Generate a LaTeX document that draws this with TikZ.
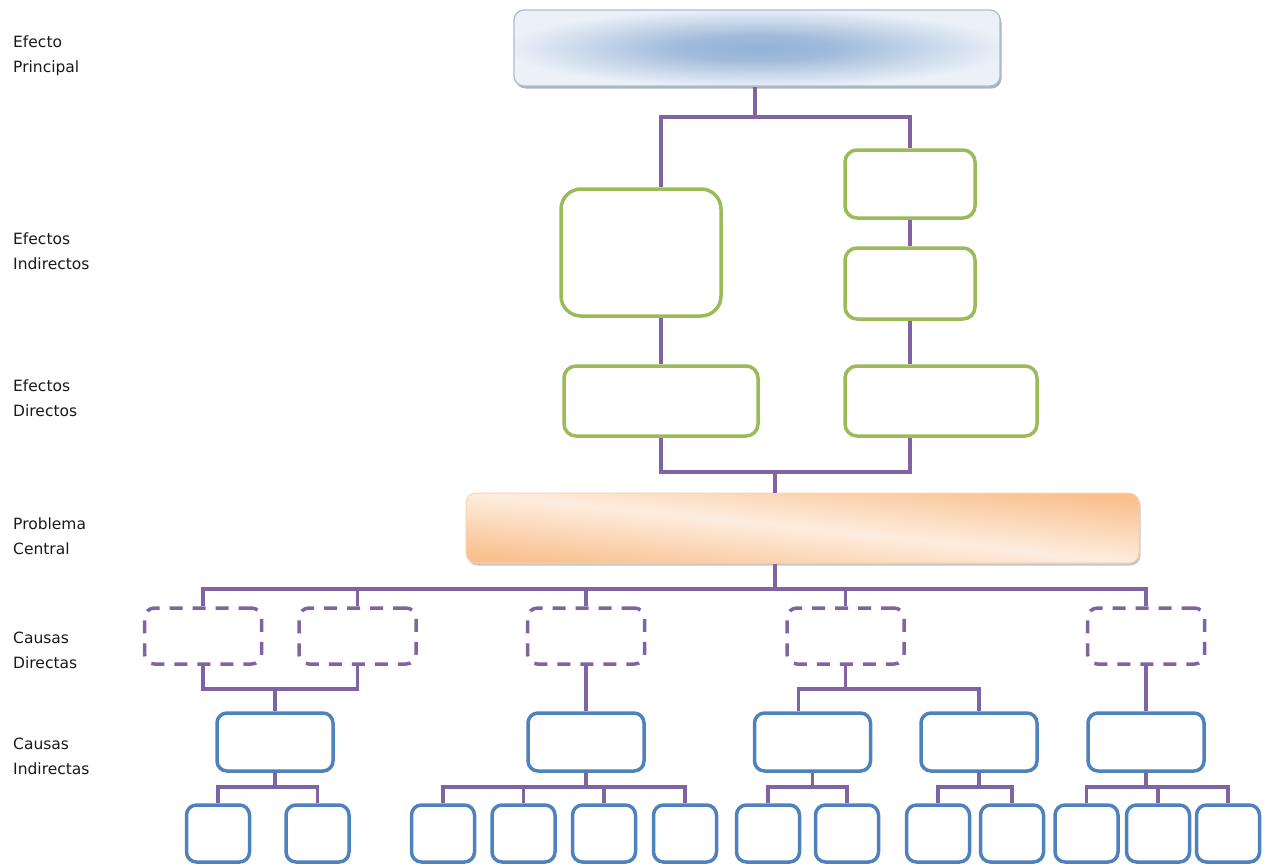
\documentclass[tikz,border=0pt]{standalone}
\usepackage{fontspec}
\setmainfont{DejaVu Sans}
\usepackage{tikz}
\usepackage{xcolor}
\usetikzlibrary{calc,shadows}
\definecolor{linkcolore}{HTML}{8064A2}
\definecolor{effectcolore}{HTML}{9BBB59}
\definecolor{causecolore}{HTML}{4F81BD}
\definecolor{maincolore}{HTML}{93B1D6}
\definecolor{mainbordere}{HTML}{A3BDDF}
\colorlet{washedmaincolore}{maincolore!18!white}
\definecolor{centralcolore}{HTML}{F9BF8C}
\colorlet{washedcentralcolore}{centralcolore!28!white}
\colorlet{linkcolor}{linkcolore}
\colorlet{effectcolor}{effectcolore}
\colorlet{causecolor}{causecolore}
\pgfdeclareradialshading{mainglow}{\pgfpoint{0bp}{0bp}}{%
    color(0bp)=(maincolore);
    color(8bp)=(maincolore!88!white);
    color(17bp)=(maincolore!42!washedmaincolore);
    color(26bp)=(washedmaincolore);
    color(50bp)=(washedmaincolore)}
\tikzstyle{link} = [draw=linkcolor, line width=3.5pt]
\tikzstyle{mainbox} = [
    rectangle,
    draw=mainbordere,
    line width=1.2pt,
    rounded corners=10pt,
    shading=mainglow,
    drop shadow={shadow xshift=1.5pt, shadow yshift=-2.5pt, opacity=.55, fill=black!55}
    ]
\tikzstyle{centralbox} = [
    rectangle,
    draw=centralcolore!70!white,
    line width=1pt,
    rounded corners=10pt,
    top color=centralcolore,
    bottom color=centralcolore,
    middle color=washedcentralcolore,
    shading angle=-6,
    drop shadow={shadow xshift=1.5pt, shadow yshift=-2.5pt, opacity=.45, fill=black!50}
    ]
\tikzstyle{effbox} = [
    rectangle,
    draw=effectcolor,
    line width=3.5pt,
    fill=white,
    rounded corners=12pt,
    minimum width=130pt,
    minimum height=68pt
    ]
\tikzstyle{dirbox} = [
    rectangle,
    draw=linkcolor,
    line width=3.5pt,
    dash pattern=on 13pt off 10pt,
    rounded corners=10pt,
    minimum width=117pt,
    minimum height=56pt
    ]
\tikzstyle{indbox} = [
    rectangle,
    draw=causecolor,
    line width=3.5pt,
    fill=white,
    rounded corners=10pt,
    minimum width=116pt,
    minimum height=58pt
    ]
\tikzstyle{leafbox} = [indbox, minimum width=63pt, minimum height=57pt]
\tikzstyle{levellabel} = [
    anchor=west,
    align=left,
    inner sep=0pt,
    text=black!90,
    font=\fontsize{15.5}{25}\selectfont
    ]

\begin{document}
\begin{tikzpicture}[x=1pt, y=-1pt]
\useasboundingbox (0,0) rectangle (1265,865);

% level names
\node[levellabel] (tEP) at (13,55.5) {Efecto\\Principal};
\node[levellabel] (tEI) at (13,251.5) {Efectos\\Indirectos};
\node[levellabel] (tED) at (13,398.5) {Efectos\\Directos};
\node[levellabel] (tPC) at (13,536.5) {Problema\\Central};
\node[levellabel] (tCD) at (13,650.5) {Causas\\Directas};
\node[levellabel] (tCI) at (13,756) {Causas\\Indirectas};

% effects
\node[mainbox, minimum width=486pt, minimum height=76pt] (ep) at (757,48) {};
\node[effbox, minimum width=160pt, minimum height=127pt, rounded corners=20pt] (ei1) at (641,252.5) {};
\node[effbox] (ei2a) at (910,184) {};
\node[effbox, minimum height=71pt] (ei2b) at (910,283.5) {};
\node[effbox, minimum width=194pt, minimum height=70pt] (ed1) at (661,401) {};
\node[effbox, minimum width=192pt, minimum height=70pt] (ed2) at (941,401) {};
\node[centralbox, minimum width=673pt, minimum height=70pt] (pc) at (802.5,528) {};

% causes
\foreach \n/\x in {1/203,2/357.5,3/586,4/845.5,5/1146}
    \node[dirbox] (cd\n) at (\x,636) {};
\foreach \n/\x in {1/275,2/586,3/812.5,4/979,5/1146}
    \node[indbox] (ci\n) at (\x,742) {};
\foreach \n/\x in {1/218,2/317.5,3/443,4/523.5,5/604,6/685,7/768,8/847,9/938,10/1012,11/1086.5,12/1158,13/1228}
    \node[leafbox] (l\n) at (\x,833.5) {};

% connectors
\coordinate (b1) at (755,117);
\coordinate (b2) at (775,472);
\coordinate (b3) at (775,589);
\coordinate (b4) at (275,689);
\coordinate (lbus) at (0,787);

\draw[link] (b1 |- ep.south) -- (b1);
\draw[link] (ed1.north |- ei1.north) |- (b1) -| (ei2a.north);
\draw[link] (ei2a.south) -- (ei2b.north);
\draw[link] (ed1.north) -- (ed1.north |- ei1.south);
\draw[link] (ei2b.south) -- (ei2b.south |- ed2.north);
\draw[link] (ed1.south) |- (b2) -| (ei2b.south |- ed2.south);
\draw[link] (b2) -- (b2 |- pc.north);

\draw[link] (b3 |- pc.south) -- (b3);
\draw[link] (cd1.north) |- (b3) -| (cd5.north);
\foreach \n in {2,3,4}
    \draw[link] (cd\n.north) -- (cd\n.north |- b3);

\draw[link] (cd1.south) |- (b4) -| (cd2.south);
\draw[link] (b4) -- (ci1.north);
\draw[link] (cd3.south) -- (ci2.north);
\draw[link] (cd4.south) -- (cd4.south |- b4);
\draw[link] ([xshift=-14pt]ci3.north) |- (cd4.south |- b4) -| (ci4.north);
\draw[link] (cd5.south) -- (ci5.north);

\foreach \p/\a/\b in {1/1/2,2/3/6,3/7/8,4/9/10,5/11/13} {
    \draw[link] (ci\p.south) -- (ci\p.south |- lbus);
    \draw[link] (l\a.north) |- (l\b.north |- lbus) -- (l\b.north);
}
\foreach \n in {4,5,12}
    \draw[link] (l\n.north) -- (l\n.north |- lbus);
\end{tikzpicture}
\end{document}
